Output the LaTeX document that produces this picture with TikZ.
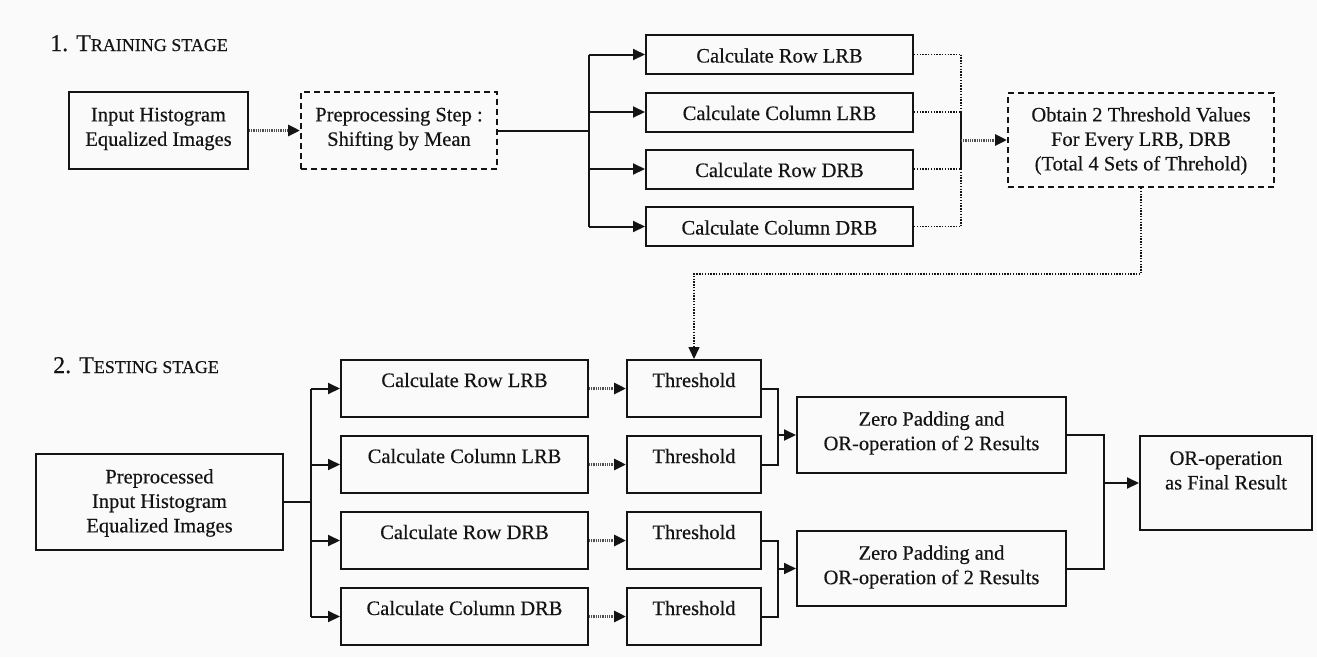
\documentclass[tikz,border=0pt]{standalone}
\usepackage{fontspec}
\setmainfont{Liberation Serif}[UprightFeatures={FakeBold=0.35}]
\usetikzlibrary{arrows.meta,calc}
\definecolor{pagebg}{RGB}{250,250,250}
\definecolor{ink}{RGB}{20,20,20}
\definecolor{hatch}{RGB}{80,80,80}
\tikzset{
  box/.style={draw=ink, line width=2pt, inner sep=0pt, rectangle},
  dbox/.style={box, dash pattern=on 6pt off 4pt},
  txt/.style={inner sep=0pt, align=center, font=\fontsize{20.5}{24.5}\selectfont, text=ink},
  conn/.style={draw=ink, line width=2pt},
  tip/.style={-{Triangle[length=12pt,width=11pt,color=ink]}},
  arr/.style={conn, tip},
  harr/.style={draw=hatch, line width=3pt, dash pattern=on 1pt off 0.8pt, tip},
  dot/.style={draw=ink, line width=1.5pt, dash pattern=on 1.4pt off 1.4pt},
  title/.style={inner sep=0pt, anchor=base west, text=ink},
}
\newcommand{\capbig}[1]{{\fontsize{24}{28}\selectfont #1}}
\newcommand{\capsmall}[1]{{\fontsize{18}{22}\selectfont #1}}
\begin{document}
\begin{tikzpicture}[x=1pt,y=-1pt]
\fill[pagebg] (0,0) rectangle (1317,657);
\useasboundingbox (0,0) rectangle (1317,657);

% ---------- training stage ----------
\node[title] (t1) at (50,51) {\capbig{1. T}\capsmall{RAINING STAGE}};

\node[box, minimum width=179pt, minimum height=77pt] (inp) at (158.5,130.5) {};
\node[txt] (inp-t) at (158.5,129) {Input Histogram\\Equalized Images};

\node[dbox, minimum width=196pt, minimum height=77pt] (pre) at (399,130.5) {};
\node[txt] (pre-t) at (399,129) {Preprocessing Step :\\Shifting by Mean};

\foreach \i/\y/\lab in {1/54.5/Calculate Row LRB, 2/112/Calculate Column LRB,
                        3/169/Calculate Row DRB, 4/226.5/Calculate Column DRB}{
  \node[box, minimum width=267pt, minimum height=39pt] (c\i) at (779.5,\y) {};
  \node[txt, anchor=base] (c\i-t) at (779.5,\y+8) {\lab};
}

\node[dbox, minimum width=266pt, minimum height=94pt] (obt) at (1141,140) {};
\node[txt] (obt-t) at (1141,141) {Obtain 2 Threshold Values\\For Every LRB, DRB\\(Total 4 Sets of Threhold)};

% training connectors
\draw[harr] (inp.east) -- (pre.west);
\coordinate (tb) at (589,130.5);
\draw[conn] (pre.east) -- (tb);
\draw[conn] (tb |- c1.west) -- (tb |- c4.west);
\foreach \i in {1,...,4}{
  \draw[arr] (tb |- c\i.west) -- (c\i.west);
}
\coordinate (tc) at (961,140);
\foreach \i in {1,...,4}{
  \draw[dot] (c\i.east) -- (tc |- c\i.east);
}
\draw[dot] (tc |- c1.east) -- (tc |- c2.east);
\draw[conn] (tc |- c2.east) -- (tc |- c3.east);
\draw[dot] (tc |- c3.east) -- (tc |- c4.east);
\draw[harr] (tc) -- (obt.west);

% ---------- testing stage ----------
\node[title] (t2) at (53,373) {\capbig{2. T}\capsmall{ESTING STAGE}};

\node[box, minimum width=247pt, minimum height=96pt] (pp) at (159.5,502) {};
\node[txt] (pp-t) at (159.5,503) {Preprocessed\\Input Histogram\\Equalized Images};

\foreach \i/\y/\lab in {1/388.5/Calculate Row LRB, 2/464.5/Calculate Column LRB,
                        3/540.5/Calculate Row DRB, 4/616.5/Calculate Column DRB}{
  \node[box, minimum width=247pt, minimum height=57pt] (d\i) at (464.5,\y) {};
  \node[txt, anchor=base] (d\i-t) at (464.5,\y-1.5) {\lab};
  \node[box, minimum width=134pt, minimum height=57pt] (h\i) at (694,\y) {};
  \node[txt, anchor=base] (h\i-t) at (694,\y-1.5) {Threshold};
}

\node[box, minimum width=269pt, minimum height=76pt] (z1) at (931.5,435) {};
\node[txt] (z1-t) at (931.5,433) {Zero Padding and\\OR-operation of 2 Results};
\node[box, minimum width=269pt, minimum height=75pt] (z2) at (931.5,568.5) {};
\node[txt] (z2-t) at (931.5,567) {Zero Padding and\\OR-operation of 2 Results};

\node[box, minimum width=172pt, minimum height=94pt] (fin) at (1226,483) {};
\node[txt] (fin-t) at (1226,470.5) {OR-operation\\as Final Result};

% testing connectors
\coordinate (sb) at (311,502);
\draw[conn] (pp.east) -- (sb);
\draw[conn] (sb |- d1.west) -- (sb |- d4.west);
\foreach \i in {1,...,4}{
  \draw[arr] (sb |- d\i.west) -- (d\i.west);
  \draw[harr] (d\i.east) -- (h\i.west);
}
\coordinate (ma) at (778,435);
\draw[conn] (h1.east) -- (ma |- h1.east) -- (ma |- h2.east) -- (h2.east);
\draw[arr] (ma |- z1.west) -- (z1.west);
\coordinate (mb) at (778,568.5);
\draw[conn] (h3.east) -- (mb |- h3.east) -- (mb |- h4.east) -- (h4.east);
\draw[arr] (mb |- z2.west) -- (z2.west);
\coordinate (mf) at (1104,483);
\draw[conn] (z1.east) -- (mf |- z1.east) -- (mf |- z2.east) -- (z2.east);
\draw[arr] (mf |- fin.west) -- (fin.west);

% threshold values fed back into the testing stage
\draw[dot, tip] (obt.south) -- ++(0,86) -| (h1.north);
\end{tikzpicture}
\end{document}
